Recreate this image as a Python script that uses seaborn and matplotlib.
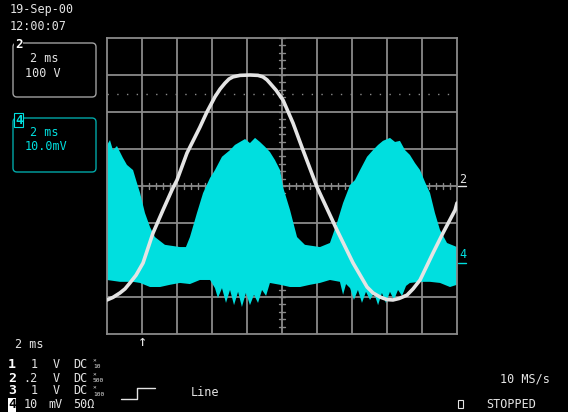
import numpy as np
import pandas as pd
import matplotlib.pyplot as plt
import seaborn as sns
from matplotlib.patches import FancyBboxPatch

# Scope settings shown on screen
CH2_V_PER_DIV = 100.0
CH4_MV_PER_DIV = 10.0
CH4_OFFSET_DIV = -2.08
MS_PER_DIV = 2.0

# Channel 2 (white), time in ms, volts
ch2_time_ms = [0.00, 0.34, 0.74, 1.03, 1.31, 1.66, 2.06, 2.63, 3.20, 3.71, 4.00, 4.57,
               5.31, 5.71, 6.17, 6.46, 6.74, 6.97, 7.20, 7.60, 8.17, 8.63, 8.91, 9.14,
               9.31, 9.66, 10.06, 10.63, 11.20, 12.00, 13.14, 14.06, 14.86, 15.20, 15.60,
               16.00, 16.34, 16.69, 17.14, 17.49, 17.89, 18.63, 19.20, 19.89, 20.00]
ch2_volts = [-308, -301, -289, -278, -262, -241, -208, -127, -65, -11, 16, 89,
             159, 200, 241, 262, 278, 289, 295, 299, 300, 299, 295, 287,
             278, 259, 232, 170, 97, -3, -119, -208, -273, -289, -300,
             -307, -308, -304, -295, -278, -254, -181, -127, -65, -46]

# Channel 4 (cyan) envelope, time in ms, mV
ch4_upper_ms = [0.00, 0.17, 0.34, 0.57, 0.74, 0.91, 1.14, 1.49, 1.66, 1.89, 2.17, 2.46,
                2.74, 3.31, 4.17, 4.51, 4.74, 5.14, 5.49, 5.89, 6.17, 6.57, 7.03, 7.31,
                7.60, 7.89, 8.17, 8.46, 8.74, 9.03, 9.31, 9.60, 9.89, 10.06, 10.46, 10.86,
                11.31, 12.17, 12.74, 13.14, 13.49, 13.89, 14.17, 14.46, 14.86, 15.20, 15.49,
                15.77, 16.17, 16.46, 16.74, 17.03, 17.31, 17.60, 17.89, 18.17, 18.46, 18.74,
                19.03, 19.43, 20.00]
ch4_upper_mv = [31.9, 33.2, 30.5, 31.6, 30.0, 28.4, 26.5, 25.1, 22.4, 18.9, 13.5, 9.7,
                7.0, 4.9, 4.3, 4.3, 7.0, 13.5, 18.9, 23.0, 25.1, 28.7, 30.5, 31.9,
                32.7, 33.5, 32.4, 33.8, 32.7, 31.4, 30.0, 27.8, 25.1, 20.5, 14.3, 7.0,
                4.9, 4.3, 5.4, 10.8, 16.2, 21.1, 22.4, 25.1, 28.7, 30.5, 31.9,
                33.0, 33.8, 32.7, 33.0, 30.5, 29.2, 27.0, 25.1, 21.9, 18.9, 13.5,
                8.9, 5.4, 4.3]
ch4_lower_ms = [0.00, 0.74, 1.49, 1.89, 2.46, 3.03, 3.60, 4.17, 4.74, 5.31, 5.89, 6.17,
                6.34, 6.57, 6.80, 7.03, 7.26, 7.49, 7.71, 7.94, 8.17, 8.40, 8.63, 8.86,
                9.09, 9.31, 9.89, 10.46, 11.03, 11.60, 12.17, 12.74, 13.31, 13.49, 13.66,
                13.89, 14.11, 14.34, 14.57, 14.80, 15.03, 15.26, 15.49, 15.71, 15.94, 16.17,
                16.40, 16.63, 16.86, 17.09, 17.31, 17.89, 18.46, 19.03, 19.60, 20.00]
ch4_lower_mv = [-4.6, -5.1, -5.1, -5.4, -6.5, -6.5, -5.9, -5.4, -5.7, -4.6, -4.6, -6.8,
                -9.5, -6.8, -10.8, -7.3, -11.4, -7.8, -11.9, -8.1, -11.4, -8.6, -10.8, -7.3,
                -8.9, -5.4, -5.9, -6.5, -6.5, -5.9, -5.4, -4.6, -5.1, -8.6, -5.7,
                -6.8, -10.0, -7.3, -10.8, -7.8, -10.0, -8.1, -11.4, -8.1, -10.8, -7.8,
                -10.0, -7.3, -8.9, -6.2, -5.4, -5.1, -5.1, -5.4, -6.5, -5.9]

# Channel setup rows at bottom
chan_ids = ['1', '2', '3', '4']
chan_scale = ['1', '.2', '1', '10']
chan_unit = ['V', 'V', 'V', 'mV']
chan_coupling = ['DC', 'DC', 'DC', '50Ω']
chan_probe = ['10', '500', '100', '']

W, H = 568, 412
CYAN = '#00dfdf'
GREY = '#8a8a8a'
WHITE = '#e4e4e4'

sns.set_theme(style="dark")
plt.rcParams['font.family'] = ['DejaVu Sans Mono', 'DejaVu Sans']

fig = plt.figure(figsize=(W / 100, H / 100), dpi=100, facecolor='black')

# overlay in pixel coordinates for screen text
ov = fig.add_axes([0, 0, 1, 1], zorder=0)
ov.set_xlim(0, W)
ov.set_ylim(H, 0)
ov.set_facecolor('black')
ov.axis('off')

# trace grid
ax = fig.add_axes([107 / W, 1 - 334 / H, 350 / W, 296 / H], zorder=1)
ax.set_facecolor('black')
ax.set_xlim(0, 10 * MS_PER_DIV)
ax.set_ylim(-4, 4)
ax.set_xticks([])
ax.set_yticks([])
ax.grid(False)
for s in ax.spines.values():
    s.set_color(GREY)
    s.set_linewidth(1.3)
for i in range(1, 10):
    ax.axvline(i * MS_PER_DIV, color=GREY, lw=1.3, zorder=1)
for j in range(-3, 4):
    ax.axhline(j, color=GREY, lw=1.3, zorder=1)

# minor ticks on the centre cross
xc = 5 * MS_PER_DIV
for yy in np.arange(-4, 4.01, 0.2):
    ax.plot([xc - 0.19, xc + 0.19], [yy, yy], color=GREY, lw=1.0, zorder=1)
for xx in np.arange(0, 20.01, 0.4):
    ax.plot([xx, xx], [-0.09, 0.09], color=GREY, lw=1.0, zorder=1)
# dotted level line
ax.plot([0, 20], [2.49, 2.49], color=GREY, lw=1.0, ls=(0, (1, 6)), zorder=1)

# channel 4 envelope
up = np.array(ch4_upper_mv) / CH4_MV_PER_DIV + CH4_OFFSET_DIV
lo = np.array(ch4_lower_mv) / CH4_MV_PER_DIV + CH4_OFFSET_DIV
ax.fill(np.r_[ch4_upper_ms, ch4_lower_ms[::-1]], np.r_[up, lo[::-1]],
        color=CYAN, lw=0, zorder=2)

# channel 2 trace
df2 = pd.DataFrame({'t': ch2_time_ms, 'v': np.array(ch2_volts) / CH2_V_PER_DIV})
sns.lineplot(data=df2, x='t', y='v', ax=ax, color=WHITE, lw=2.6, zorder=3,
             estimator=None, sort=False)
ax.set_xlabel('')
ax.set_ylabel('')

# header text
ov.text(10, 9, '19-Sep-00', color=WHITE, fontsize=8.5, va='center')
ov.text(10, 26, '12:00:07', color=WHITE, fontsize=8.5, va='center')

# channel boxes
ov.add_patch(FancyBboxPatch((13, 43), 83, 54, boxstyle='round,pad=0,rounding_size=4',
                            fc='none', ec='#a0a0a0', lw=1.0))
ov.text(15, 44, '2', color='white', fontsize=9, fontweight='bold', va='center',
        bbox=dict(fc='black', ec='none', pad=0.5))
ov.text(30, 58, '2 ms', color=WHITE, fontsize=8.5, va='center')
ov.text(25, 73, '100 V', color=WHITE, fontsize=8.5, va='center')

ov.add_patch(FancyBboxPatch((13, 118), 83, 54, boxstyle='round,pad=0,rounding_size=4',
                            fc='none', ec='#00a8a8', lw=1.0))
ov.text(15, 120, '4', color=CYAN, fontsize=9, fontweight='bold', va='center',
        bbox=dict(fc='black', ec=CYAN, lw=0.8, pad=0.5))
ov.text(30, 132, '2 ms', color=CYAN, fontsize=8.5, va='center')
ov.text(25, 147, '10.0mV', color=CYAN, fontsize=8.5, va='center')

# right-side level markers
ov.text(459, 179, '2', color=WHITE, fontsize=8.5, va='center')
ov.plot([458, 466], [186, 186], color=WHITE, lw=1)
ov.text(459, 255, '4', color=CYAN, fontsize=8.5, va='center')
ov.plot([458, 466], [263, 263], color=CYAN, lw=1)

# trigger position arrow
ov.text(142, 341, '↑', color=WHITE, fontsize=11, ha='center', va='center')

# bottom status
ov.text(15, 345, '2 ms', color=WHITE, fontsize=8.5, va='center')
rows_y = [364, 378, 391, 405]
for k, yy in enumerate(rows_y):
    if chan_ids[k] == '4':
        ov.text(8, yy, chan_ids[k], color='black', fontsize=9.5, fontweight='bold',
                va='center', bbox=dict(fc='white', ec='none', pad=0.3))
    else:
        ov.text(8, yy, chan_ids[k], color='white', fontsize=9.5, fontweight='bold',
                va='center')
    ov.text(38, yy, chan_scale[k], color=WHITE, fontsize=8.5, va='center', ha='right')
    ov.text(48 if chan_unit[k] == 'mV' else 53, yy, chan_unit[k], color=WHITE,
            fontsize=8.5, va='center')
    ov.text(73, yy, chan_coupling[k], color=WHITE, fontsize=8.5, va='center')
    if chan_probe[k]:
        ov.text(93, yy - 3, '×', color=WHITE, fontsize=4.5, va='center')
        ov.text(93, yy + 3, chan_probe[k], color=WHITE, fontsize=4.5, va='center')

# trigger symbol and source
ov.plot([121, 137, 137, 155], [399, 399, 388, 388], color=WHITE, lw=1)
ov.text(191, 392, 'Line', color=WHITE, fontsize=8.5, va='center')

ov.text(500, 379, '10 MS/s', color=WHITE, fontsize=8.5, va='center')
ov.add_patch(plt.Rectangle((458, 400), 5, 8, fc='none', ec=WHITE, lw=0.8))
ov.text(486, 405, 'STOPPED', color=WHITE, fontsize=8.5, va='center')

fig.savefig('out.png', dpi=100, facecolor='black')
